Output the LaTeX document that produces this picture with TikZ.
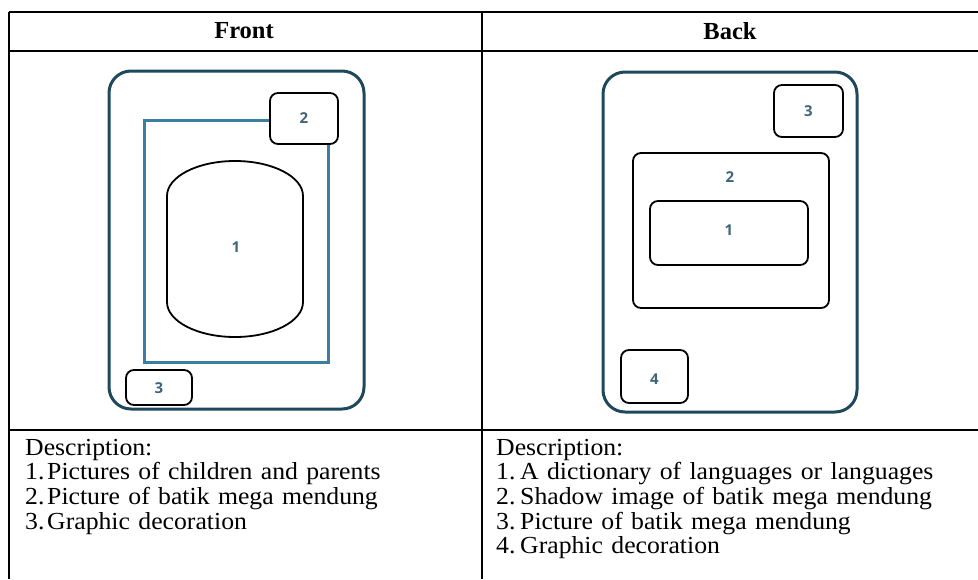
\documentclass[tikz,border=0pt]{standalone}
\usepackage{fontspec}
\setmainfont{Liberation Serif}
\setsansfont{Open Sans}
\newfontfamily\descfont[FakeStretch=1.05,WordSpace=1.3]{Liberation Serif}
\definecolor{carddark}{HTML}{1F485C}
\definecolor{cardblue}{HTML}{3A7EA2}
\definecolor{numcol}{HTML}{3E6579}
\begin{document}
\begin{tikzpicture}[x=1pt,y=-1pt,
  card/.style={draw=carddark,line width=3pt,rounded corners=22pt,inner sep=0pt,outer sep=0pt},
  ibox/.style={draw=black,line width=1.8pt,rounded corners=8pt,fill=white,inner sep=0pt,outer sep=0pt},
  num/.style={font=\sffamily\bfseries\fontsize{15}{15}\selectfont,text=numcol,inner sep=0pt},
  hdr/.style={font=\bfseries\fontsize{24.5}{26}\selectfont,inner sep=0pt},
  desc/.style={font=\descfont\fontsize{24.5}{26}\selectfont,anchor=base west,inner sep=0pt},
  tline/.style={line width=1.3pt,black}]
\useasboundingbox (0,0) rectangle (978,579);
% table
\coordinate (tl) at (9,12); \coordinate (tr) at (978,12);
\coordinate (hl) at (9,51); \coordinate (hr) at (978,51);
\coordinate (rl) at (9,430); \coordinate (rr) at (978,430);
\coordinate (bl) at (9,579); \coordinate (mt) at (482,12); \coordinate (mb) at (482,579);
\draw[tline] (tl) -- (tr);
\draw[tline] (hl) -- (hr);
\draw[tline] (rl) -- (rr);
\draw[tline] (tl) -- (bl);
\draw[tline] (mt) -- (mb);
\node[hdr] (hfront) at (244,31) {Front};
\node[hdr] (hback) at (730,31) {Back};
% front card
\node[card,minimum width=255pt,minimum height=338pt] (fcard) at (236.5,240) {};
\node[draw=cardblue,line width=3pt,inner sep=0pt,outer sep=0pt,minimum width=184pt,minimum height=242pt] (fblue) at (236,241) {};
\node[ibox,minimum width=68pt,minimum height=51pt] (f2) at (304,118.5) {};
\node[num] (f2l) at (304,118.5) {2};
\draw[line width=1.8pt] (167,196) arc[start angle=180,end angle=0,x radius=68pt,y radius=35pt]
  -- (303,302) arc[start angle=0,end angle=-180,x radius=68pt,y radius=35pt] -- cycle;
\node[num] (f1l) at (236,247) {1};
\node[ibox,minimum width=66pt,minimum height=35pt] (f3) at (159,387.5) {};
\node[num] (f3l) at (159,388) {3};
% back card
\node[card,minimum width=254pt,minimum height=340pt] (bcard) at (730,242) {};
\node[ibox,minimum width=69pt,minimum height=52pt] (b3) at (808.5,111) {};
\node[num] (b3l) at (808.5,111) {3};
\node[ibox,minimum width=196pt,minimum height=155pt] (b2) at (731,230.5) {};
\node[num] (b2l) at (730,177) {2};
\node[ibox,minimum width=158pt,minimum height=64pt] (b1) at (729,233) {};
\node[num] (b1l) at (729,230) {1};
\node[ibox,minimum width=67pt,minimum height=53pt] (b4) at (654.5,376.5) {};
\node[num] (b4l) at (654.5,379) {4};
% descriptions left
\node[desc] (ld) at (25,455) {Description:};
\node[desc] (ln1) at (25,479.7) {1.};
\node[desc] (lt1) at (47,479.7) {Pictures of children and parents};
\node[desc] (ln2) at (25,504.4) {2.};
\node[desc] (lt2) at (47,504.4) {Picture of batik mega mendung};
\node[desc] (ln3) at (25,529.1) {3.};
\node[desc] (lt3) at (47,529.1) {Graphic decoration};
% descriptions right
\node[desc] (rd) at (496,455) {Description:};
\node[desc] (rn1) at (496,479.7) {1.};
\node[desc] (rt1) at (520,479.7) {A dictionary of languages or languages};
\node[desc] (rn2) at (496,504.4) {2.};
\node[desc] (rt2) at (520,504.4) {Shadow image of batik mega mendung};
\node[desc] (rn3) at (496,529.1) {3.};
\node[desc] (rt3) at (520,529.1) {Picture of batik mega mendung};
\node[desc] (rn4) at (496,553.8) {4.};
\node[desc] (rt4) at (520,553.8) {Graphic decoration};
\end{tikzpicture}
\end{document}
